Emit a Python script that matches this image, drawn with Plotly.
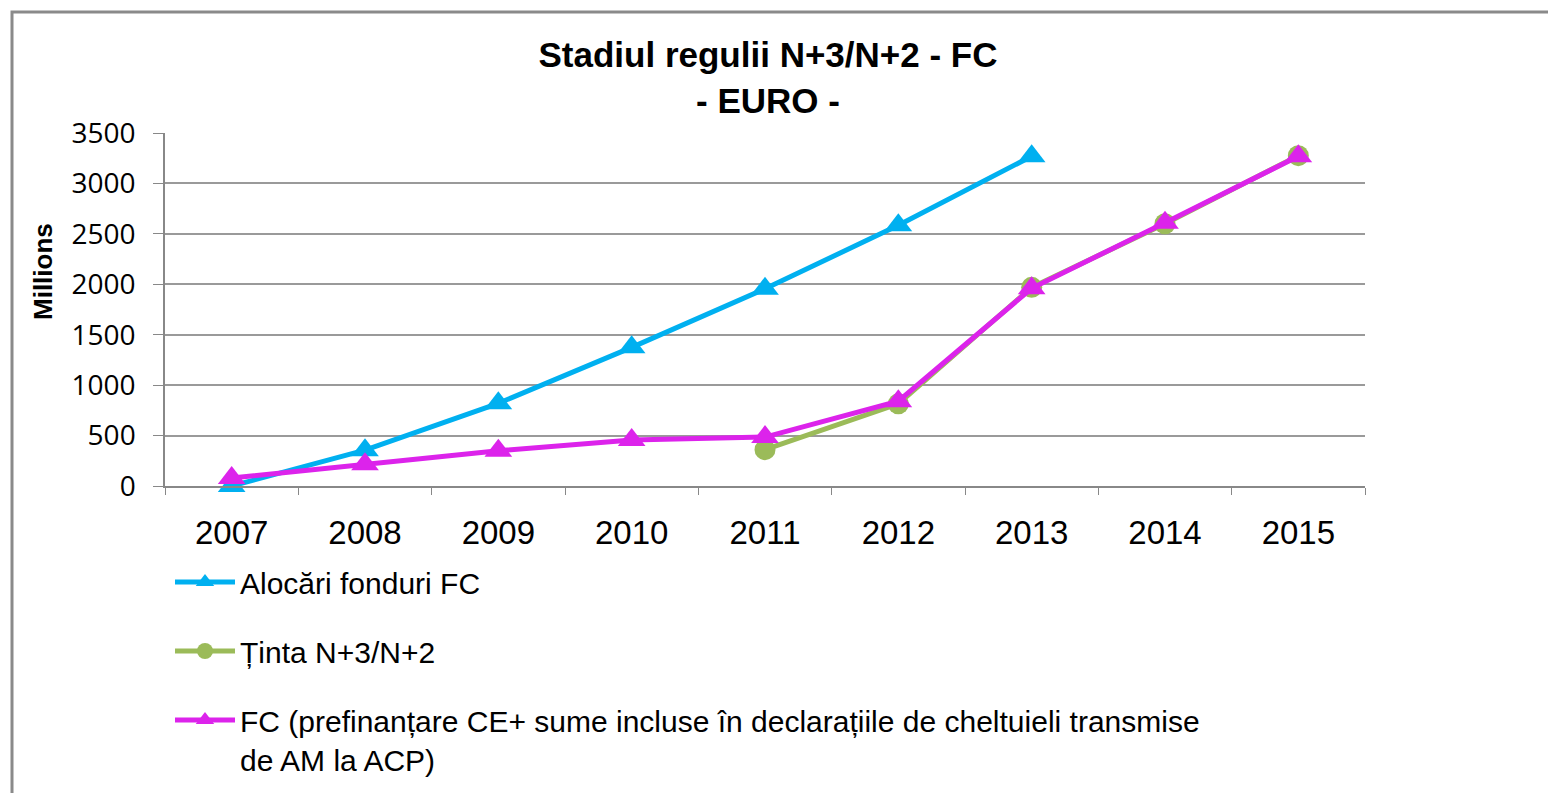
import plotly.graph_objects as go

years = ["2007", "2008", "2009", "2010", "2011", "2012", "2013", "2014", "2015"]
alocari = [0, 355, 820, 1375, 1955, 2585, 3270, None, None]
tinta = [None, None, None, None, 360, 815, 1970, 2600, 3275]
fc = [80, 215, 350, 455, 485, 840, 1960, 2610, 3270]

names = ["Alocări fonduri FC", "Ținta N+3/N+2",
         "FC (prefinanțare CE+ sume incluse în declarațiile de cheltuieli transmise<br>de AM la ACP)"]
colors = ["#00B0F0", "#9BBB59", "#DC23EB"]

OFF = 8  # default page body margin
W, H = 1556 - 2 * OFF, 801 - 2 * OFF
# plot area in page pixels
L, R, T, B = 165, 1365, 133, 486

fig = go.Figure()
fig.add_trace(go.Scatter(x=years, y=alocari, name=names[0], mode="lines+markers",
                         line=dict(color=colors[0], width=5), cliponaxis=False,
                         marker=dict(symbol="triangle-up", size=24, color=colors[0]),
                         legendgroup="a"))
fig.add_trace(go.Scatter(x=years, y=tinta, name=names[1], mode="lines+markers",
                         line=dict(color=colors[1], width=5), cliponaxis=False,
                         marker=dict(symbol="circle", size=21, color=colors[1]),
                         legendgroup="b"))
fig.add_trace(go.Scatter(x=years, y=fc, name=names[2], mode="lines+markers",
                         line=dict(color=colors[2], width=5), cliponaxis=False,
                         marker=dict(symbol="triangle-up", size=24, color=colors[2]),
                         legendgroup="c"))

pw, ph = R - L, B - T

def px_x(p):
    return (p - L) / pw

def px_y(p):
    return (B - p) / ph

fig.update_layout(
    width=W, height=H,
    margin=dict(l=L - OFF, r=W - (R - OFF), t=T - OFF, b=H - (B - OFF), autoexpand=False),
    paper_bgcolor="white", plot_bgcolor="white",
    font=dict(family="Liberation Sans, Arial, sans-serif", color="black"),
    title=dict(text="<b>Stadiul regulii N+3/N+2 - FC<br>- EURO -</b>",
               x=(768 - OFF) / W, xanchor="center", y=1 - (67 - OFF) / H, yanchor="middle",
               font=dict(size=35, family="Liberation Sans, Arial, sans-serif")),
    showlegend=True,
    legend=dict(xref="container", yref="container", x=162 / W, y=1 - 548 / H,
                xanchor="left", yanchor="top", orientation="v",
                font=dict(size=30, family="Liberation Sans, Arial, sans-serif"),
                tracegroupgap=27, valign="top", itemwidth=60,
                bgcolor="rgba(0,0,0,0)"),
    xaxis=dict(type="category", tickson="boundaries", ticks="outside", ticklen=7,
               tickcolor="#888888", showline=True, linecolor="#888888", linewidth=1.5,
               showgrid=False, tickfont=dict(size=33), ticklabelstandoff=17,
               range=[-0.5, 8.5]),
    yaxis=dict(range=[0, 3500], tickvals=[0, 500, 1000, 1500, 2000, 2500, 3000, 3500],
               ticks="outside", ticklen=10, tickcolor="#888888",
               showline=True, linecolor="#888888", linewidth=1.5,
               showgrid=True, gridcolor="#9A9A9A", gridwidth=1.5,
               zeroline=False, tickfont=dict(size=28, family="Open Sans, Liberation Sans, sans-serif"),
               ticklabelstandoff=12),
    annotations=[dict(text="<b>Millions</b>", textangle=-90, xref="paper", yref="paper",
                      x=px_x(43), y=px_y(272), xanchor="center", yanchor="middle",
                      showarrow=False,
                      font=dict(size=26, family="Liberation Sans, Arial, sans-serif"))],
    shapes=[dict(type="rect", xref="paper", yref="paper",
                 x0=px_x(12), x1=px_x(1650), y0=px_y(900), y1=px_y(12),
                 line=dict(color="#8A8A8A", width=3), layer="below")],
)

fig.write_html("out.html")
